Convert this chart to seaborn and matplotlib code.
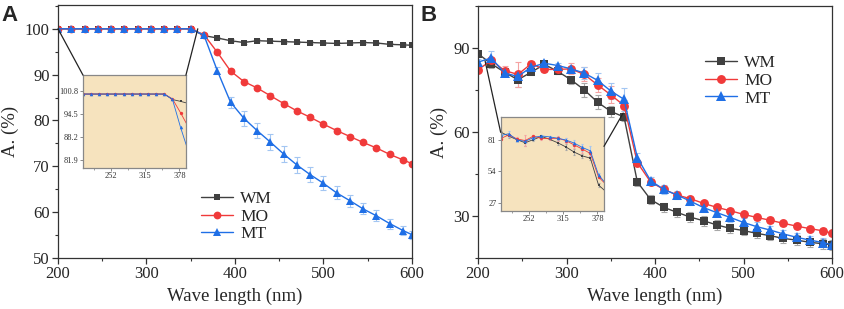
import numpy as np
import pandas as pd
import matplotlib
matplotlib.use('Agg')
import matplotlib.pyplot as plt
import seaborn as sns
from matplotlib.patches import ConnectionPatch
from matplotlib.ticker import MultipleLocator

# wavelengths (nm), one point every 15 nm plus the end point
wave = list(range(200, 600, 15)) + [600]

# panel A
a_wm = [100] * 11 + [98.5, 98.0, 97.4, 97.0, 97.4, 97.3, 97.2, 97.1, 97.0, 96.9,
                     96.8, 96.9, 97.0, 96.9, 96.6, 96.5, 96.4]
a_mo = [100] * 11 + [98.7, 94.9, 90.8, 88.5, 87.1, 85.4, 83.7, 82.1, 80.7, 79.2,
                     77.8, 76.5, 75.2, 74.0, 72.6, 71.4, 70.6]
a_mt = [100] * 11 + [98.6, 90.9, 84.0, 80.5, 77.8, 75.3, 72.7, 70.3, 68.2, 66.3,
                     64.2, 62.5, 60.7, 59.2, 57.5, 56.0, 55.1]
a_wm_err = [0.1] * 11 + [0.3] * 17
a_mo_err = [0.1] * 11 + [0.4, 0.5, 0.5, 0.5, 0.5, 0.5, 0.5, 0.5, 0.5, 0.5,
                         0.5, 0.4, 0.4, 0.4, 0.4, 0.4, 0.4]
a_mt_err = [0.1] * 11 + [0.4, 0.8, 1.2, 1.6, 1.7, 1.8, 1.8, 1.7, 1.6, 1.5,
                         1.4, 1.3, 1.2, 1.2, 1.1, 1.0, 0.9]

# panel B
b_wm = [88.0, 84.4, 81.4, 78.7, 81.4, 84.2, 81.7, 78.7, 75.1, 70.7, 67.4, 65.4,
        42.2, 35.9, 33.1, 31.3, 29.6, 28.3, 26.8, 25.6, 24.8, 23.8, 23.0, 22.0,
        21.4, 20.6, 20.1, 19.7]
b_mo = [82.3, 85.6, 82.0, 80.6, 84.4, 82.4, 82.4, 82.6, 80.6, 76.9, 73.3, 69.5,
        49.1, 42.2, 39.5, 37.5, 36.2, 34.5, 33.1, 31.9, 30.6, 29.5, 28.5, 27.4,
        26.4, 25.5, 24.7, 23.8]
b_mt = [85.0, 86.5, 81.1, 79.9, 83.2, 84.6, 83.8, 82.6, 81.1, 78.5, 74.7, 71.7,
        50.9, 42.6, 39.5, 37.5, 35.3, 33.0, 31.2, 29.5, 27.7, 26.2, 25.0, 23.6,
        22.4, 21.4, 20.5, 19.7]
b_wm_err = [1.0, 1.5, 1.5, 2.5, 1.0, 1.0, 1.0, 1.5, 2.5, 2.5, 2.0, 1.5,
            1.5, 1.5, 1.7, 1.7, 1.7, 1.7, 1.7, 1.7, 1.7, 1.7, 1.7, 1.7,
            1.7, 1.7, 1.7, 1.7]
b_mo_err = [1.0, 1.0, 1.5, 4.5, 1.0, 1.0, 1.5, 2.0, 2.5, 2.5, 3.0, 2.0,
            1.0, 1.0, 1.0, 1.0, 1.0, 1.0, 1.0, 1.0, 1.0, 1.0, 1.0, 1.0,
            1.0, 1.0, 1.0, 1.0]
b_mt_err = [1.0, 2.5, 1.0, 1.0, 1.0, 1.0, 1.0, 1.0, 2.0, 2.5, 3.0, 4.0,
            1.5, 1.5, 1.5, 1.5, 1.5, 1.5, 1.5, 1.5, 1.5, 1.5, 1.5, 1.5,
            1.5, 1.5, 1.5, 1.5]

names = ['WM', 'MO', 'MT']
colors = {'WM': '#404040', 'MO': '#f03a3a', 'MT': '#1f6fe6'}
err_colors = {'WM': '#a8a8a8', 'MO': '#f5a3a3', 'MT': '#a3c6f2'}
markers = {'WM': 's', 'MO': 'o', 'MT': '^'}
msize = {'WM': 0.82, 'MO': 1.0, 'MT': 1.05}   # relative marker sizes


def to_long(vals, errs):
    rows = []
    for n, v, e in zip(names, vals, errs):
        rows.append(pd.DataFrame({'wave': wave, 'abs': v, 'err': e, 'sample': n}))
    return pd.concat(rows, ignore_index=True)


df_a = to_long([a_wm, a_mo, a_mt], [a_wm_err, a_mo_err, a_mt_err])
df_b = to_long([b_wm, b_mo, b_mt], [b_wm_err, b_mo_err, b_mt_err])

sns.set_style('white')
plt.rcParams['font.family'] = ['Liberation Serif', 'DejaVu Serif']

fig = plt.figure(figsize=(8.44, 3.09), dpi=100)
ax_a = fig.add_axes([0.0687, 0.165, 0.4193, 0.819])
ax_b = fig.add_axes([0.5664, 0.165, 0.4194, 0.815])


def draw(ax, df, ms, lw, errs=True, cap=2):
    for n in names:
        d = df[df['sample'] == n]
        if errs:
            ax.errorbar(d['wave'], d['abs'], yerr=d['err'], fmt='none',
                        ecolor=err_colors[n], elinewidth=0.8, capsize=cap, capthick=0.8,
                        zorder=1)
        sns.lineplot(data=d, x='wave', y='abs', color=colors[n], marker=markers[n],
                     markersize=ms * msize[n], markeredgewidth=0, linewidth=lw,
                     ax=ax, legend=False, zorder=2)


def frame(ax, col='#333333'):
    for s in ax.spines.values():
        s.set_color(col)
        s.set_linewidth(0.9)


draw(ax_a, df_a, 5.6, 1.0)
ax_a.set_xlim(200, 600)
ax_a.set_ylim(50, 105.2)
ax_a.set_yticks([50, 60, 70, 80, 90, 100])
ax_a.set_xticks([200, 300, 400, 500, 600])
ax_a.xaxis.set_minor_locator(MultipleLocator(50))
ax_a.yaxis.set_minor_locator(MultipleLocator(5))

draw(ax_b, df_b, 6.4, 1.0)
ax_b.set_xlim(200, 600)
ax_b.set_ylim(15, 105)
ax_b.set_yticks([30, 60, 90])
ax_b.set_xticks([200, 300, 400, 500, 600])
ax_b.xaxis.set_minor_locator(MultipleLocator(50))
ax_b.yaxis.set_minor_locator(MultipleLocator(15))

for ax in (ax_a, ax_b):
    frame(ax)
    ax.tick_params(which='major', direction='out', length=4, width=0.9,
                   labelsize=12, color='#333333', bottom=True, left=True, pad=2)
    ax.tick_params(which='minor', direction='out', length=2, width=0.8,
                   color='#333333', bottom=True, left=True)
    ax.set_xlabel('Wave length (nm)', fontsize=13.5, labelpad=4)
    ax.set_ylabel('A. (%)', fontsize=13.5, labelpad=4)

fig.text(0.002, 0.985, 'A', fontsize=16, fontweight='bold', family='Liberation Sans',
         va='top', ha='left')
fig.text(0.498, 0.985, 'B', fontsize=16, fontweight='bold', family='Liberation Sans',
         va='top', ha='left')

# legends
for ax, anchor, ms in [(ax_a, (0.405, 0.265), 5.6), (ax_b, (0.642, 0.805), 6.4)]:
    handles = [plt.Line2D([], [], color=colors[n], marker=markers[n],
                          markersize=ms * msize[n], markeredgewidth=0, linewidth=1.0)
               for n in names]
    ax.legend(handles, names, loc='upper left', bbox_to_anchor=anchor, frameon=False,
              fontsize=12.5, handlelength=1.85, handletextpad=0.4, labelspacing=0.08,
              borderaxespad=0, borderpad=0)

# insets
ins_a = fig.add_axes([0.0983, 0.456, 0.122, 0.301])
draw(ins_a, df_a, 2.4, 0.6, errs=False)
ins_a.set_xlim(200, 390)
ins_a.set_ylim(79.7, 105.2)
ins_a.set_xticks([252, 315, 378])
ins_a.set_yticks([81.9, 88.2, 94.5, 100.8])

ins_b = fig.add_axes([0.5932, 0.318, 0.1224, 0.302])
draw(ins_b, df_b, 2.4, 0.6, errs=True, cap=1)
ins_b.set_xlim(200, 390)
ins_b.set_ylim(20, 100.6)
ins_b.set_xticks([252, 315, 378])
ins_b.set_yticks([27, 54, 81])

for ins in (ins_a, ins_b):
    ins.set_facecolor('#f6e3be')
    frame(ins, '#888888')
    ins.set_xlabel('')
    ins.set_ylabel('')
    ins.tick_params(direction='out', length=2, width=0.6, labelsize=6, pad=1,
                    color='#777777', labelcolor='#333333', bottom=True, left=True)
    ins.xaxis.set_minor_locator(MultipleLocator(31.5))
    ins.tick_params(which='minor', direction='out', length=1.5, width=0.5,
                    color='#777777', bottom=True)

# connector lines from main plots to the insets
for xyA, ax, xyB, ins in [((200, 100), ax_a, (0, 1), ins_a),
                          ((358, 100), ax_a, (1, 1), ins_a),
                          ((208, 85.4), ax_b, (0, 0.84), ins_b),
                          ((364, 66.8), ax_b, (1, 0.69), ins_b)]:
    con = ConnectionPatch(xyA=xyA, coordsA=ax.transData, xyB=xyB, coordsB=ins.transAxes,
                          color='#222222', linewidth=0.9)
    fig.add_artist(con)

fig.savefig('out.png', dpi=100)
